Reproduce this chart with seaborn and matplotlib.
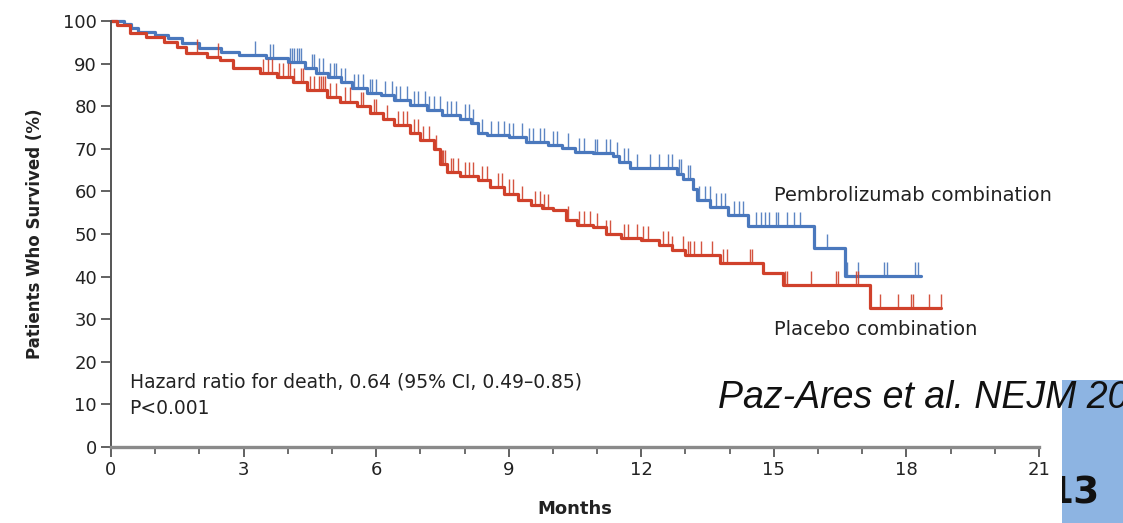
import numpy as np
import pandas as pd
import matplotlib
matplotlib.use("Agg")
import matplotlib.pyplot as plt
import seaborn as sns
from matplotlib.patches import Rectangle
from matplotlib.ticker import MultipleLocator

# ---------------- data ----------------
pembro_times = [0, 0.3, 0.45, 0.6, 1.0, 1.3, 1.6, 2.0, 2.5, 2.9, 3.5, 4.0, 4.4, 4.65, 4.9,
                5.2, 5.45, 5.8, 6.1, 6.4, 6.77, 7.15, 7.5, 7.9, 8.15, 8.3, 8.5, 9.0, 9.4,
                9.9, 10.2, 10.5, 10.9, 11.37, 11.5, 11.75, 12.8, 12.95, 13.18, 13.26,
                13.56, 13.97, 14.42, 15.9, 16.6]
pembro_surv = [100, 99.3, 98.3, 97.5, 96.7, 95.9, 94.8, 93.6, 92.8, 92.0, 91.2, 90.4, 88.9,
               87.9, 86.9, 85.6, 84.3, 83.0, 82.6, 81.5, 80.3, 79.1, 77.9, 77.1, 76.0, 73.6,
               73.2, 72.8, 71.7, 70.9, 70.3, 69.3, 68.9, 68.2, 67.0, 65.4, 64.2, 63.0, 60.6,
               58.0, 56.4, 54.5, 51.9, 46.8, 40.1]
pembro_end = 18.33

placebo_times = [0, 0.13, 0.43, 0.8, 1.2, 1.5, 1.7, 2.17, 2.47, 2.77, 3.37, 3.75, 4.12, 4.43,
                 4.88, 5.18, 5.57, 5.86, 6.16, 6.4, 6.77, 7.0, 7.3, 7.45, 7.6, 7.9, 8.3, 8.58,
                 8.9, 9.2, 9.5, 9.75, 10.0, 10.3, 10.55, 10.9, 11.2, 11.55, 12.0, 12.4, 12.7,
                 13.0, 13.78, 14.76, 15.2, 17.18]
placebo_surv = [100, 99.0, 97.2, 96.3, 95.1, 94.0, 92.4, 91.6, 90.8, 88.9, 87.7, 86.9, 85.7,
                83.8, 82.2, 81.1, 80.0, 78.5, 77.0, 75.5, 73.8, 72.0, 70.0, 66.5, 64.5, 63.5,
                62.7, 61.1, 59.5, 58.0, 56.8, 56.0, 55.6, 53.3, 52.1, 51.7, 50.1, 49.0, 48.6,
                47.4, 46.2, 45.1, 43.1, 40.8, 38.0, 32.6]
placebo_end = 18.78

pembro_censor = [3.26, 3.6, 3.67, 4.05, 4.1, 4.15, 4.2, 4.25, 4.3, 4.55, 4.6, 4.7, 4.8, 4.95,
                 5.05, 5.1, 5.2, 5.3, 5.5, 5.6, 5.7, 5.85, 5.9, 6.0, 6.2, 6.35, 6.45, 6.55,
                 6.7, 6.85, 6.95, 7.1, 7.2, 7.3, 7.45, 7.6, 7.7, 7.8, 8.0, 8.1, 8.2, 8.4,
                 8.6, 8.75, 8.9, 9.0, 9.1, 9.3, 9.45, 9.55, 9.7, 9.8, 10.0, 10.1, 10.35,
                 10.6, 10.7, 10.95, 11.0, 11.2, 11.3, 11.45, 11.6, 11.7, 11.9, 12.2, 12.4,
                 12.6, 12.7, 12.85, 12.9, 13.05, 13.1, 13.3, 13.45, 13.55, 13.7, 13.8, 13.9,
                 14.1, 14.2, 14.3, 14.6, 14.7, 14.8, 14.9, 15.05, 15.1, 15.3, 15.45, 15.6,
                 16.2, 16.65, 16.9, 17.5, 17.55, 18.2, 18.26]
placebo_censor = [1.95, 2.42, 3.45, 3.55, 3.65, 3.8, 3.9, 4.0, 4.05, 4.15, 4.3, 4.35, 4.5,
                  4.6, 4.7, 4.75, 4.8, 4.85, 4.95, 5.1, 5.3, 5.4, 5.65, 5.7, 5.95, 6.0, 6.25,
                  6.5, 6.6, 6.7, 6.85, 6.95, 7.05, 7.2, 7.35, 7.5, 7.52, 7.55, 7.7, 7.75,
                  7.85, 8.0, 8.1, 8.2, 8.4, 8.5, 8.75, 8.85, 9.0, 9.1, 9.3, 9.6, 9.7, 9.8,
                  9.9, 10.35, 10.6, 10.7, 10.85, 11.0, 11.2, 11.3, 11.6, 11.7, 11.9, 12.05,
                  12.15, 12.5, 12.6, 12.7, 12.95, 13.05, 13.1, 13.2, 13.35, 13.6, 13.85,
                  13.95, 14.45, 14.5, 15.25, 15.3, 15.85, 16.4, 16.45, 16.85, 16.9, 17.4,
                  17.8, 18.1, 18.15, 18.5, 18.78]

group_names = ["Pembrolizumab combination", "Placebo combination"]
colors = {"Pembrolizumab combination": "#4a78bd", "Placebo combination": "#d0412b"}

x_ticks = [0, 3, 6, 9, 12, 15, 18, 21]
y_ticks = [0, 10, 20, 30, 40, 50, 60, 70, 80, 90, 100]

hr_text = "Hazard ratio for death, 0.64 (95% CI, 0.49\u20130.85)"
p_text = "P<0.001"
cite_text = "Paz-Ares et al. NEJM 2019"
slide_num = "13"

# ---------------- build tables ----------------
def curve_frame(name, t, s, end):
    tt = list(t) + [end]
    ss = list(s) + [s[-1]]
    return pd.DataFrame({"Months": tt, "Survival": ss, "Group": name})

df = pd.concat([
    curve_frame(group_names[0], pembro_times, pembro_surv, pembro_end),
    curve_frame(group_names[1], placebo_times, placebo_surv, placebo_end),
], ignore_index=True)

def surv_at(times, surv, x):
    idx = np.searchsorted(np.asarray(times), np.asarray(x), side="right") - 1
    return np.asarray(surv)[idx]

# ---------------- plot ----------------
sns.set_style("white")
plt.rcParams["font.family"] = ["DejaVu Sans"]

fig = plt.figure(figsize=(11.23, 5.23), dpi=100)
ax = fig.add_axes([111 / 1123, 76 / 523, 928 / 1123, 426 / 523])

sns.lineplot(data=df, x="Months", y="Survival", hue="Group", palette=colors,
             estimator=None, sort=False, drawstyle="steps-post", linewidth=2.3,
             legend=False, ax=ax, clip_on=False)

for name, t, s, c in [(group_names[0], pembro_times, pembro_surv, pembro_censor),
                      (group_names[1], placebo_times, placebo_surv, placebo_censor)]:
    base = surv_at(t, s, c)
    ax.vlines(c, base, base + 3.3, colors=colors[name], linewidth=1.0, alpha=0.9,
              clip_on=False)

ax.set_xlim(0, 21)
ax.set_ylim(0, 100)
ax.set_xticks(x_ticks)
ax.set_yticks(y_ticks)
ax.xaxis.set_minor_locator(MultipleLocator(1))

ax.spines["top"].set_visible(False)
ax.spines["right"].set_visible(False)
ax.spines["left"].set_color("#555555")
ax.spines["left"].set_linewidth(1.4)
ax.spines["bottom"].set_color("#8a8a8a")
ax.spines["bottom"].set_linewidth(2.4)

ax.tick_params(axis="both", which="major", direction="out", length=7, width=1.3,
               color="#555555", labelsize=13, labelcolor="#222222", pad=3)
ax.tick_params(axis="x", which="minor", direction="out", length=5, width=1.2,
               color="#555555")
ax.tick_params(axis="x", which="both", bottom=True)
ax.tick_params(axis="y", left=True)

ax.set_xlabel("Months", fontsize=13, fontweight="bold", labelpad=15, color="#222222")
ax.set_ylabel("Patients Who Survived (%)", fontsize=12, fontweight="bold", labelpad=14,
              color="#222222")

# curve labels (positions in data units)
ax.text(15.0, 59.0, group_names[0], fontsize=14, color="#222222", va="center",
        ha="left", clip_on=False)
ax.text(15.0, 27.5, group_names[1], fontsize=14, color="#222222", va="center",
        ha="left", clip_on=False)

ax.text(0.42, 15.2, hr_text, fontsize=13.5, color="#222222", va="center", ha="left")
ax.text(0.42, 9.1, p_text, fontsize=13.5, color="#222222", va="center", ha="left")

# slide decorations
rect = Rectangle((1062 / 1123, 0), 61 / 1123, 143 / 523, transform=fig.transFigure,
                 facecolor="#8db4e2", edgecolor="none", zorder=1)
fig.patches.append(rect)
fig.text(718 / 1123, 1 - 398 / 523, cite_text, fontsize=27, style="italic",
         family=["Liberation Sans", "DejaVu Sans"], va="center", ha="left",
         color="#111111", zorder=3)
num = fig.text(1100 / 1123, 1 - 493 / 523, slide_num, fontsize=27, fontweight="bold",
               va="center", ha="right", color="#111111", zorder=3)
num.set_clip_path(rect)

fig.savefig("out.png", dpi=100)
